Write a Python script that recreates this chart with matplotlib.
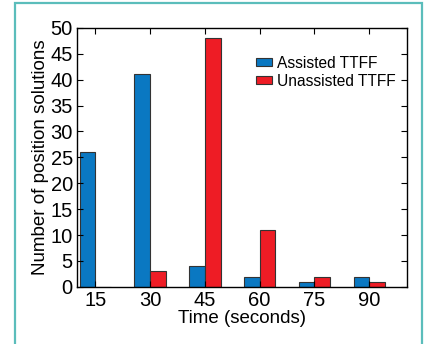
import matplotlib
matplotlib.use("Agg")
import matplotlib.pyplot as plt
from matplotlib.patches import Rectangle
import numpy as np

plt.rcParams["font.family"] = ["Liberation Sans", "DejaVu Sans"]

times = [15, 30, 45, 60, 75, 90]
assisted = [26, 41, 4, 2, 1, 2]
unassisted = [0, 3, 48, 11, 2, 1]

BLUE = "#0a78c2"
RED = "#ee1c25"
EDGE = "#333333"
BORDER = "#5bbdbb"

fig = plt.figure(figsize=(4.3, 3.44), dpi=100)
fig.patch.set_facecolor("white")

# teal frame around the figure (bottom edge runs off the canvas)
fig.add_artist(Rectangle((0.035, -0.2), 0.946, 1.191, transform=fig.transFigure,
                         fill=False, edgecolor=BORDER, linewidth=1.6))

ax = fig.add_axes([0.179, 0.166, 0.768, 0.753])

x = np.array(times, dtype=float)
w = 4.3
ax.bar(x - w / 2, assisted, width=w, color=BLUE, edgecolor=EDGE,
       linewidth=0.8, label="Assisted TTFF")
ax.bar(x + w / 2, unassisted, width=w, color=RED, edgecolor=EDGE,
       linewidth=0.8, label="Unassisted TTFF")

ax.set_xlim(10, 100.4)
ax.set_ylim(0, 50)
ax.set_xticks(times)
ax.set_yticks(range(0, 51, 5))
ax.tick_params(direction="in", top=True, right=True, length=4, width=0.8,
               labelsize=14.5, pad=3)
for s in ax.spines.values():
    s.set_linewidth(1.0)

ax.set_xlabel("Time (seconds)", fontsize=13.5, labelpad=0)
ax.set_ylabel("Number of position solutions", fontsize=13.5, labelpad=1)

ax.legend(loc="upper left", bbox_to_anchor=(0.51, 0.935), frameon=False,
          fontsize=11.2, handlelength=1.0, handleheight=0.4,
          handletextpad=0.3, labelspacing=0.2, borderpad=0.2)

plt.savefig("out.png", dpi=100)
plt.close()
